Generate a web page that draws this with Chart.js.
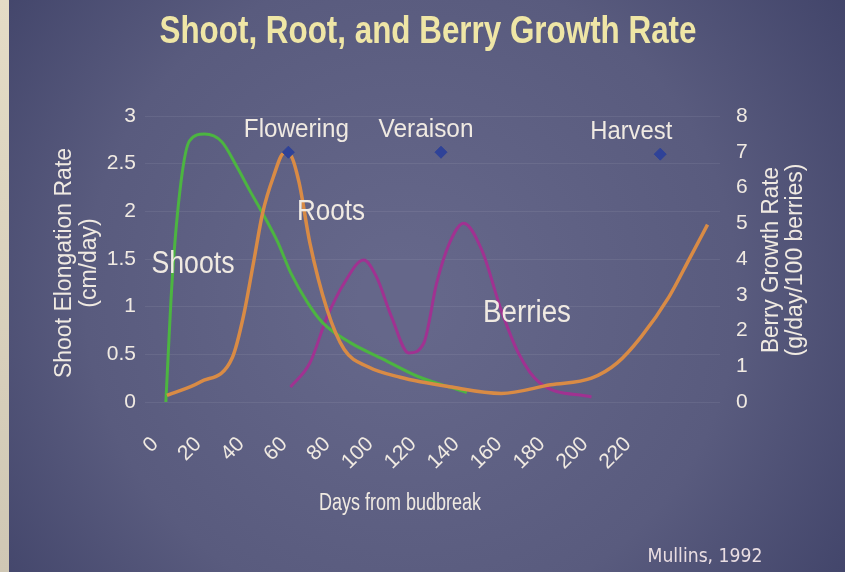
<!DOCTYPE html>
<html lang="en">
<head>
    <meta charset="UTF-8">
    <title>Shoot, Root, and Berry Growth Rate</title>
    <style>
        html, body {
            margin: 0;
            padding: 0;
            background: #4e5074;
        }
        #wrap {
            width: 845px;
            height: 572px;
        }
    </style>
    <script src="https://cdn.jsdelivr.net/npm/chart.js"></script>
</head>
<body>

<div id="wrap">
    <canvas id="growthChart" width="845" height="572"></canvas>
</div>

<script>
    // values (days from budbreak)
    const xTicks = [0, 20, 40, 60, 80, 100, 120, 140, 160, 180, 200, 220];

    const shootDays = [5, 8, 12, 16, 23, 31, 38, 44, 50, 57, 63, 71, 78, 91, 106, 122, 145];
    const shootRate = [0, 1.3, 2.3, 2.74, 2.81, 2.73, 2.47, 2.22, 1.98, 1.68, 1.36, 1.04, 0.83, 0.62, 0.45, 0.27, 0.1];

    const rootDays = [5.5, 21, 36, 41, 46, 50, 55, 60, 63, 67, 72, 80, 88, 99, 114, 137, 161, 184, 203, 215, 226, 239, 249, 257];
    const rootRate = [0.07, 0.21, 0.47, 0.89, 1.49, 1.98, 2.36, 2.61, 2.59, 2.3, 1.67, 0.97, 0.55, 0.37, 0.26, 0.16, 0.09, 0.18, 0.25, 0.41, 0.68, 1.1, 1.52, 1.86];

    const berryDays = [63, 72, 80, 88, 97, 103, 110, 118, 125, 131, 137, 143.5, 152, 161, 169, 179, 203];
    const berryRate = [0.42, 1.09, 2.38, 3.33, 3.97, 3.5, 2.38, 1.37, 1.65, 3.33, 4.45, 5.0, 4.25, 2.57, 1.37, 0.53, 0.14];

    const stageNames = ['Flowering', 'Veraison', 'Harvest'];
    const stageDays = [62, 133, 235];
    const stageLevel = [2.62, 2.62, 2.6];

    function pairs(xs, ys) {
        return xs.map((x, i) => ({ x: x, y: ys[i] }));
    }

    const textColor = '#f0eae2';

    // draw a string squeezed to a given width (the slide font is narrow)
    function squeezed(ctx, text, cx, baseline, size, width, weight, family) {
        ctx.font = (weight || 'normal') + ' ' + size + 'px ' + (family || '"Liberation Sans", Arial, sans-serif');
        const w = ctx.measureText(text).width;
        ctx.save();
        ctx.translate(cx, baseline);
        ctx.scale(Math.min(1, width / w), 1);
        ctx.textAlign = 'center';
        ctx.textBaseline = 'alphabetic';
        ctx.fillText(text, 0, 0);
        ctx.restore();
    }

    const slideBackground = {
        id: 'slideBackground',
        beforeDraw(chart) {
            const ctx = chart.ctx;
            const w = chart.width, h = chart.height;
            ctx.save();
            const g = ctx.createRadialGradient(400, 300, 40, 420, 290, 560);
            g.addColorStop(0, '#65678a');
            g.addColorStop(0.55, '#595b7e');
            g.addColorStop(1, '#3d4066');
            ctx.fillStyle = g;
            ctx.fillRect(0, 0, w, h);
            // bright screen edge on the left
            const edge = ctx.createLinearGradient(0, 0, 0, h);
            edge.addColorStop(0, '#e4dcc6');
            edge.addColorStop(1, '#cfc7b4');
            ctx.fillStyle = edge;
            ctx.fillRect(0, 0, 9, h);
            ctx.restore();
        }
    };

    const slideText = {
        id: 'slideText',
        afterDraw(chart) {
            const ctx = chart.ctx;
            const xs = chart.scales.x;
            const ys = chart.scales.y;
            ctx.save();

            // title
            ctx.fillStyle = '#efe6a6';
            squeezed(ctx, 'Shoot, Root, and Berry Growth Rate', 428, 43, 39, 537, 'bold');

            ctx.fillStyle = textColor;

            // stage labels above the markers
            const labelShift = [8, -15, -29];
            const labelWidth = [105, 95, 82];
            stageNames.forEach((name, i) => {
                const px = xs.getPixelForValue(stageDays[i]);
                const py = ys.getPixelForValue(stageLevel[i]);
                squeezed(ctx, name, px + labelShift[i], py - 15, 26, labelWidth[i]);
            });

            // series labels
            squeezed(ctx, 'Shoots', 193, 273, 31, 83);
            squeezed(ctx, 'Roots', 331, 220, 30, 68);
            squeezed(ctx, 'Berries', 527, 322, 31, 88);

            // axis titles (both read bottom to top)
            ctx.save();
            ctx.translate(63, 263);
            ctx.rotate(-Math.PI / 2);
            squeezed(ctx, 'Shoot Elongation Rate', 0, 8, 23, 243);
            squeezed(ctx, '(cm/day)', 0, 33, 23, 92);
            ctx.restore();

            ctx.save();
            ctx.translate(770, 260);
            ctx.rotate(-Math.PI / 2);
            squeezed(ctx, 'Berry Growth Rate', 0, 8, 23, 186);
            squeezed(ctx, '(g/day/100 berries)', 0, 32, 23, 203);
            ctx.restore();

            squeezed(ctx, 'Days from budbreak', 400, 510, 23, 162);

            ctx.fillStyle = '#e9dde2';
            squeezed(ctx, 'Mullins, 1992', 705, 562, 19, 115, 'normal', '"DejaVu Sans", Verdana, sans-serif');

            ctx.restore();
        }
    };

    const tickFont = { family: '"Liberation Sans", Arial, sans-serif', size: 21 };

    const ctx = document.getElementById('growthChart').getContext('2d');

    new Chart(ctx, {
        type: 'line',
        data: {
            datasets: [
                {
                    label: 'Shoots',
                    data: pairs(shootDays, shootRate),
                    borderColor: '#4cb541',
                    borderWidth: 3,
                    pointRadius: 0,
                    cubicInterpolationMode: 'monotone',
                    yAxisID: 'y',
                    order: 2
                },
                {
                    label: 'Roots',
                    data: pairs(rootDays, rootRate),
                    borderColor: '#d98b45',
                    borderWidth: 3.5,
                    pointRadius: 0,
                    cubicInterpolationMode: 'monotone',
                    yAxisID: 'y',
                    order: 1
                },
                {
                    label: 'Berries',
                    data: pairs(berryDays, berryRate),
                    borderColor: '#a03291',
                    borderWidth: 3,
                    pointRadius: 0,
                    cubicInterpolationMode: 'monotone',
                    yAxisID: 'y1',
                    order: 3
                },
                {
                    label: 'Stages',
                    data: pairs(stageDays, stageLevel),
                    showLine: false,
                    pointStyle: 'rectRot',
                    pointRadius: 6,
                    backgroundColor: '#2f4298',
                    borderColor: '#2f4298',
                    borderWidth: 1,
                    yAxisID: 'y',
                    order: 0
                }
            ]
        },
        options: {
            responsive: false,
            animation: false,
            layout: {
                padding: { top: 116, left: 0, right: 0, bottom: 0 }
            },
            plugins: {
                legend: { display: false },
                tooltip: { enabled: false }
            },
            scales: {
                x: {
                    type: 'linear',
                    min: -4.7,
                    max: 262.8,
                    afterBuildTicks(scale) {
                        scale.ticks = xTicks.map(v => ({ value: v }));
                    },
                    afterFit(scale) {
                        scale.height = 170;
                    },
                    grid: { display: false },
                    border: { display: false },
                    ticks: {
                        autoSkip: false,
                        minRotation: 45,
                        maxRotation: 45,
                        padding: 22,
                        color: textColor,
                        font: tickFont
                    }
                },
                y: {
                    position: 'left',
                    min: 0,
                    max: 3,
                    afterFit(scale) {
                        scale.width = 145;
                    },
                    grid: {
                        color: 'rgba(255,255,255,0.07)',
                        lineWidth: 1,
                        drawTicks: false
                    },
                    border: { display: false },
                    ticks: {
                        stepSize: 0.5,
                        padding: 9,
                        color: textColor,
                        font: tickFont,
                        callback: v => String(v)
                    }
                },
                y1: {
                    position: 'right',
                    min: 0,
                    max: 8,
                    afterFit(scale) {
                        scale.width = 125;
                    },
                    grid: { drawOnChartArea: false, drawTicks: false },
                    border: { display: false },
                    ticks: {
                        stepSize: 1,
                        padding: 16,
                        color: textColor,
                        font: tickFont
                    }
                }
            }
        },
        plugins: [slideBackground, slideText]
    });
</script>

</body>
</html>
